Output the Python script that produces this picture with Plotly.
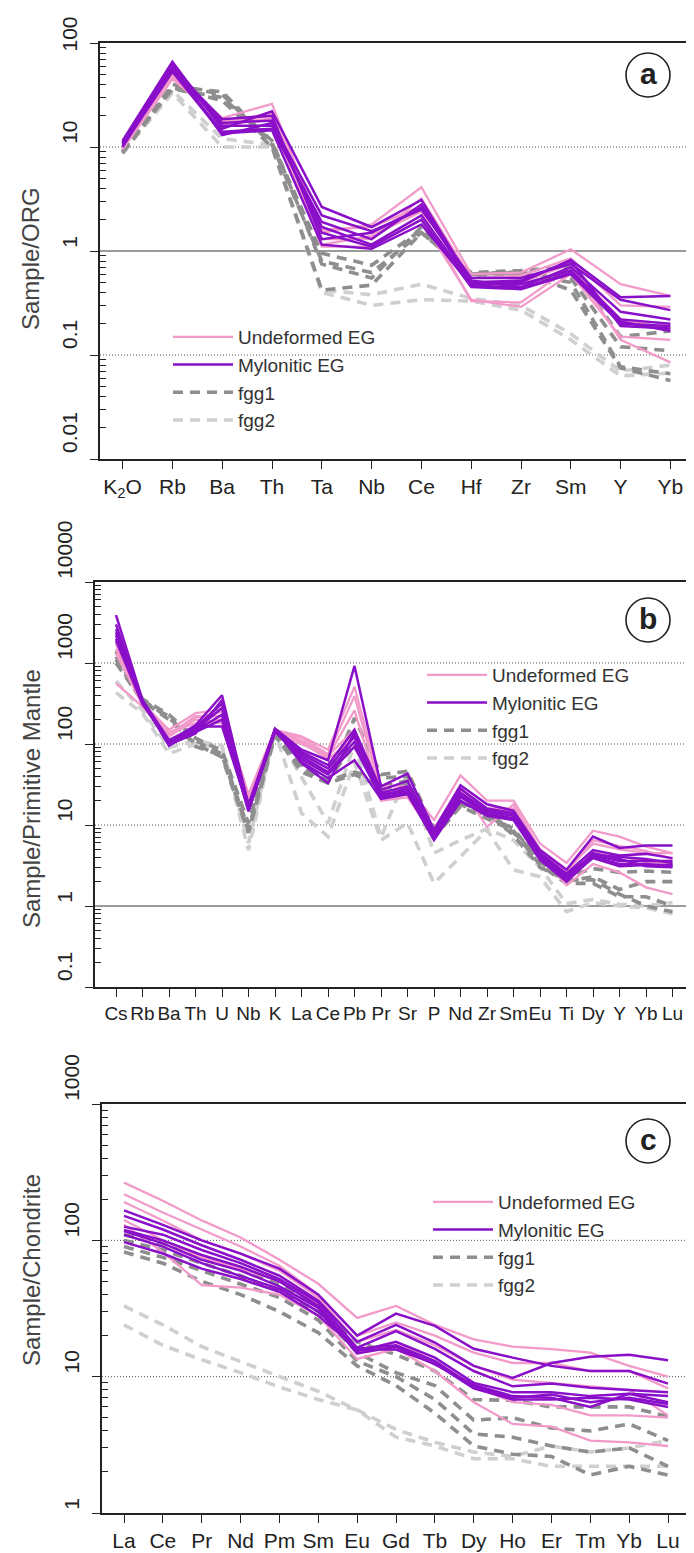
import math
import plotly.graph_objects as go

# page is 694 x 1553; the browser's default 8px body margin offsets the figure
PAGE_W, PAGE_H = 694, 1553
OFF = 8
W, H = PAGE_W - OFF, PAGE_H - OFF

# ---------------- Panel a : ORG normalised ----------------
cats_a = ["K2O", "Rb", "Ba", "Th", "Ta", "Nb", "Ce", "Hf", "Zr", "Sm", "Y", "Yb"]
ticks_a = ["K<sub>2</sub>O", "Rb", "Ba", "Th", "Ta", "Nb", "Ce", "Hf", "Zr", "Sm", "Y", "Yb"]

a_undeformed = [
    [10.5, 50, 19, 26, 1.5, 1.8, 4.1, 0.60, 0.62, 1.04, 0.48, 0.37],
    [10.0, 48, 17, 20, 1.3, 1.3, 3.2, 0.55, 0.58, 0.85, 0.30, 0.29],
    [9.5, 45, 18, 18, 1.15, 1.4, 2.4, 0.33, 0.32, 0.70, 0.22, 0.18],
    [10.0, 52, 16, 19, 1.1, 1.1, 2.0, 0.34, 0.29, 0.60, 0.15, 0.14],
    [9.8, 47, 17.5, 21, 1.6, 1.7, 2.7, 0.50, 0.50, 0.75, 0.14, 0.085],
]
a_mylonitic = [
    [11.5, 66, 15, 22, 2.65, 1.7, 3.1, 0.50, 0.50, 0.82, 0.36, 0.37],
    [11.0, 60, 13, 17, 2.2, 1.55, 2.5, 0.55, 0.55, 0.75, 0.34, 0.27],
    [10.5, 55, 14, 15, 1.9, 1.3, 2.8, 0.52, 0.45, 0.70, 0.26, 0.22],
    [10.0, 58, 16, 16, 1.7, 1.15, 2.2, 0.48, 0.48, 0.65, 0.22, 0.20],
    [10.8, 62, 17, 18, 1.5, 1.1, 2.0, 0.45, 0.43, 0.60, 0.20, 0.19],
    [11.2, 57, 18.5, 20, 1.3, 1.5, 2.6, 0.50, 0.52, 0.80, 0.19, 0.18],
    [10.2, 53, 13.5, 14.5, 1.15, 1.05, 1.8, 0.47, 0.44, 0.62, 0.21, 0.17],
]
a_fgg1 = [
    [9.0, 38, 34, 11, 0.95, 0.73, 1.6, 0.62, 0.65, 0.70, 0.15, 0.17],
    [8.8, 40, 32, 10.5, 0.80, 0.62, 1.5, 0.60, 0.62, 0.55, 0.12, 0.11],
    [9.2, 36, 30, 11.5, 0.75, 0.55, 1.7, 0.58, 0.60, 0.50, 0.077, 0.066],
    [8.7, 37, 28, 10, 0.42, 0.47, 1.5, 0.60, 0.63, 0.42, 0.075, 0.057],
]
a_fgg2 = [
    [9.0, 35, 12, 10.5, 0.42, 0.38, 0.48, 0.35, 0.30, 0.16, 0.070, 0.080],
    [8.8, 33, 10, 10, 0.40, 0.30, 0.34, 0.33, 0.27, 0.14, 0.063, 0.067],
]

# ---------------- Panel b : Primitive mantle ----------------
cats_b = ["Cs", "Rb", "Ba", "Th", "U", "Nb", "K", "La", "Ce", "Pb", "Pr", "Sr",
          "P", "Nd", "Zr", "Sm", "Eu", "Ti", "Dy", "Y", "Yb", "Lu"]
ticks_b = cats_b

b_undeformed = [
    [1800, 320, 150, 240, 265, 24, 150, 124, 85, 510, 30, 30, 11.5, 41, 20, 20, 5.9, 3.4, 8.5, 7.2, 5.4, 4.5],
    [1500, 300, 130, 220, 220, 20, 140, 120, 75, 390, 26, 28, 9, 30, 9.5, 18, 5.0, 2.8, 5.9, 5.0, 4.5, 4.5],
    [560, 290, 124, 200, 180, 22, 135, 100, 70, 260, 22, 25, 8, 27, 16, 16, 4.5, 1.8, 3.3, 2.6, 1.7, 1.4],
    [1300, 310, 140, 180, 200, 20, 145, 110, 72, 150, 20, 22, 7.5, 25, 14, 14, 4.2, 2.5, 4.8, 4.2, 3.5, 3.3],
    [1700, 330, 135, 210, 250, 23, 150, 105, 65, 120, 24, 24, 8.5, 28, 15, 15, 4.8, 2.6, 6.5, 5.5, 4.8, 3.8],
]
b_mylonitic = [
    [3900, 350, 107, 170, 400, 17, 155, 85, 63, 920, 30, 43, 8.7, 31, 18, 15, 4.9, 2.8, 7.2, 5.2, 5.6, 5.6],
    [2400, 330, 100, 160, 316, 15, 150, 80, 55, 150, 27, 35, 8, 28, 16, 14, 4.5, 2.5, 4.9, 4.2, 4.4, 3.9],
    [2200, 340, 95, 150, 278, 16, 145, 75, 50, 124, 25, 30, 7.5, 25, 15, 13, 4.2, 2.3, 4.2, 3.6, 3.6, 3.6],
    [2000, 320, 110, 145, 230, 15, 140, 70, 45, 107, 23, 28, 7, 22, 14, 12, 4.0, 2.2, 3.9, 3.1, 3.2, 3.2],
    [1900, 310, 105, 140, 200, 14.7, 150, 65, 42, 93, 22, 25, 6.5, 20, 13, 11.5, 3.8, 2.1, 4.5, 3.8, 3.1, 3.0],
    [2600, 345, 112, 165, 165, 16, 148, 60, 38, 63, 21, 24, 6.8, 19.5, 13.5, 12, 3.7, 2.0, 4.0, 3.3, 3.3, 3.1],
    [3000, 335, 98, 135, 350, 18, 152, 58, 33, 140, 24, 26, 7.2, 23, 15, 13, 4.3, 2.4, 4.3, 4.0, 3.8, 3.4],
]
b_fgg1 = [
    [1400, 360, 230, 118, 83, 10.5, 140, 58, 34, 210, 42, 46, 9, 20, 15, 8, 4.0, 2.3, 2.9, 2.6, 2.7, 2.6],
    [1200, 350, 210, 110, 75, 9, 135, 50, 35, 45, 38, 40, 8, 18, 13, 9, 3.5, 2.0, 2.3, 1.6, 2.0, 2.0],
    [1000, 340, 200, 100, 69, 8, 130, 45, 33, 42, 30, 35, 7, 17, 12, 8.5, 3.2, 1.9, 1.9, 1.3, 1.3, 1.0],
    [1100, 330, 220, 93, 72, 8.5, 125, 55, 36, 100, 28, 32, 8.5, 19, 14, 7.5, 3.0, 2.1, 2.1, 1.4, 1.0, 0.85],
]
b_fgg2 = [
    [430, 240, 76, 100, 90, 4.9, 140, 14, 7.2, 60, 6.5, 10.6, 1.9, 4.0, 8.7, 2.8, 2.3, 0.85, 1.1, 1.0, 0.95, 0.8],
    [600, 260, 90, 110, 95, 6.0, 145, 40, 10.5, 100, 7.0, 45, 4.5, 6.5, 9.0, 6.5, 3.0, 1.07, 1.2, 1.05, 1.0, 1.1],
]

# ---------------- Panel c : Chondrite ----------------
cats_c = ["La", "Ce", "Pr", "Nd", "Pm", "Sm", "Eu", "Gd", "Tb", "Dy", "Ho", "Er", "Tm", "Yb", "Lu"]
ticks_c = cats_c

c_undeformed = [
    [265, 195, 140, 105, 72, 48, 27, 33, 24, 18.8, 16.6, 15.9, 15, 12, 10],
    [218, 160, 120, 90, 65, 40, 20, 25, 20, 15, 12.6, 12.6, 11, 11, 8.2],
    [191, 140, 100, 80, 60, 38, 18, 22, 17, 12, 9.5, 9, 8.5, 8, 5.2],
    [141, 100, 75, 62, 50, 34, 15, 18, 13, 8.5, 6.5, 6.2, 5.2, 5.2, 5.0],
    [130, 82, 47, 45, 40, 28, 13.5, 16, 11, 6.5, 4.5, 4.3, 3.4, 3.3, 3.1],
]
c_mylonitic = [
    [166, 130, 100, 80, 62, 40, 20, 29, 23.6, 16, 13.8, 12, 11, 11, 8.9],
    [151, 120, 92, 72, 55, 36, 18, 24, 17.8, 12, 9.8, 12.6, 14, 14.5, 13.2],
    [126, 110, 85, 68, 52, 35, 16.3, 21.6, 16, 11, 8.5, 8.9, 8.3, 8.0, 7.7],
    [119, 100, 78, 64, 50, 33, 15.4, 18, 13.8, 9, 7.7, 7.7, 7.2, 7.5, 7.2],
    [117, 95, 72, 60, 46, 32, 14.8, 16.6, 12.3, 8.7, 7.2, 7.0, 6.0, 7.5, 6.5],
    [110, 90, 68, 55, 44, 30, 15.8, 15.8, 12.5, 8.2, 6.8, 6.8, 7.0, 6.8, 6.0],
    [97, 80, 62, 52, 42, 28, 16, 17, 13, 8.5, 7.0, 7.4, 6.5, 7.0, 6.3],
]
c_fgg1 = [
    [110, 95, 75, 62, 48, 34, 18, 14.5, 11, 6.8, 6.7, 6.0, 6.0, 6.0, 5.1],
    [100, 85, 68, 55, 42, 30, 15, 10.7, 8.6, 4.8, 5.0, 4.2, 4.0, 4.5, 3.4],
    [90, 75, 60, 48, 38, 26, 13, 10, 6.8, 3.8, 3.6, 3.1, 2.8, 3.0, 2.2],
    [82, 68, 50, 40, 30, 21, 12, 8.6, 5.4, 3.1, 2.7, 2.6, 1.9, 2.2, 1.9],
]
c_fgg2 = [
    [33, 24, 16.6, 12.9, 10, 7.8, 5.7, 4.1, 3.3, 2.8, 2.6, 3.1, 2.8, 3.0, 3.4],
    [24, 17, 13.3, 10.7, 8.4, 6.8, 5.7, 3.6, 3.1, 2.5, 2.5, 2.2, 2.2, 2.2, 2.2],
]

# ---------------- styles ----------------
SANS = "Liberation Sans, Arial, sans-serif"

styles = {
    "Undeformed EG": dict(color="#F29BCA", width=2.3, dash="solid", rank=1),
    "Mylonitic EG": dict(color="#8A0FC9", width=2.5, dash="solid", rank=2),
    "fgg1": dict(color="#8E8E8E", width=3.6, dash="10px,7px", rank=3),
    "fgg2": dict(color="#CFCFCF", width=3.6, dash="10px,7px", rank=4),
}

PX_RIGHT = 692


def fx(px):
    return (px - OFF) / W


def fy(py):
    return (H - (py - OFF)) / H


panels = [
    dict(cats=cats_a, ticks=ticks_a,
         groups=[("fgg2", a_fgg2), ("fgg1", a_fgg1), ("Undeformed EG", a_undeformed), ("Mylonitic EG", a_mylonitic)],
         lo=-2, hi=2, labels=["0.01", "0.1", "1", "10", "100"], pads=[4, 3, 1, 2, 1],
         px_left=100, px_first=122.6, px_step=49.8, px_top=43, px_bot=459, xfont=21,
         grid=[(1, "dot"), (0, "solid"), (-1, "dot")],
         title="Sample/ORG", title_y=259, letter="a", letter_y=75,
         leg_x=168, leg_y=318),
    dict(cats=cats_b, ticks=ticks_b,
         groups=[("fgg2", b_fgg2), ("fgg1", b_fgg1), ("Undeformed EG", b_undeformed), ("Mylonitic EG", b_mylonitic)],
         lo=-1, hi=4, labels=["0.1", "1", "10", "100", "1000", "10000"], pads=[3, 1, 2, 3, 4, 5],
         px_left=95, px_first=116, px_step=26.5, px_top=582, px_bot=987, xfont=19,
         grid=[(3, "dot"), (2, "dot"), (1, "dot"), (0, "solid")],
         title="Sample/Primitive Mantle", title_y=799, letter="b", letter_y=620,
         leg_x=422, leg_y=656),
    dict(cats=cats_c, ticks=ticks_c,
         groups=[("fgg2", c_fgg2), ("fgg1", c_fgg1), ("Undeformed EG", c_undeformed), ("Mylonitic EG", c_mylonitic)],
         lo=0, hi=3, labels=["1", "10", "100", "1000"], pads=[1, 2, 3, 4],
         px_left=102, px_first=124, px_step=38.86, px_top=1104, px_bot=1513, xfont=21,
         grid=[(2, "dot"), (1, "dot")],
         title="Sample/Chondrite", title_y=1270, letter="c", letter_y=1141,
         leg_x=428, leg_y=1183),
]

fig = go.Figure()
shapes = []
annotations = []
layout = dict(width=W, height=H, margin=dict(l=0, r=0, t=0, b=0, autoexpand=False),
              paper_bgcolor="white", plot_bgcolor="white", showlegend=True)

for i, p in enumerate(panels):
    n = i + 1
    xs = "x" if n == 1 else f"x{n}"
    ys = "y" if n == 1 else f"y{n}"
    lg = "legend" if n == 1 else f"legend{n}"
    for name, series in p["groups"]:
        st = styles[name]
        for k, vals in enumerate(series):
            fig.add_trace(go.Scatter(
                x=p["cats"], y=vals, mode="lines", name=name,
                line=dict(color=st["color"], width=st["width"], dash=st["dash"]),
                xaxis=xs, yaxis=ys, legend=lg, legendgroup=f"{name}{n}",
                showlegend=(k == 0), legendrank=st["rank"], hoverinfo="skip"))

    xr = [(p["px_left"] - p["px_first"]) / p["px_step"], (PX_RIGHT - p["px_first"]) / p["px_step"]]
    xdom = [fx(p["px_left"]), fx(PX_RIGHT)]
    ydom = [fy(p["px_bot"]), fy(p["px_top"])]
    decades = list(range(p["lo"], p["hi"] + 1))
    tickvals = [10 ** d for d in decades]
    ticktext = ["\u2007" * k + t for t, k in zip(p["labels"], p["pads"])]
    minor_vals = [m * 10 ** d for d in decades[:-1] for m in range(2, 10)]

    layout["xaxis" if n == 1 else f"xaxis{n}"] = dict(
        domain=xdom, anchor=ys, type="category", range=xr, automargin=False,
        tickmode="array", tickvals=p["cats"], ticktext=p["ticks"], tickangle=0,
        ticks="outside", ticklen=8, tickwidth=1.3, tickcolor="#222",
        showline=True, linecolor="#222", linewidth=1.6, mirror=True,
        showgrid=False, zeroline=False, ticklabeloverflow="allow",
        tickfont=dict(family=SANS, size=p["xfont"], color="#222"))
    layout["yaxis" if n == 1 else f"yaxis{n}"] = dict(
        domain=ydom, anchor=xs, type="log", range=[p["lo"], p["hi"]], automargin=False,
        tickmode="array", tickvals=tickvals, ticktext=ticktext, tickangle=-90,
        ticks="outside", ticklen=8, tickwidth=1.3, tickcolor="#222",
        ticklabelstandoff=5, ticklabeloverflow="allow",
        minor=dict(tickmode="array", tickvals=minor_vals, ticks="inside",
                   ticklen=6, tickwidth=1.2, tickcolor="#222", showgrid=False),
        showline=True, linecolor="#222", linewidth=1.6, mirror=True,
        showgrid=False, zeroline=False,
        tickfont=dict(family=SANS, size=21, color="#222"))

    for lv, kind in p["grid"]:
        frac = (lv - p["lo"]) / (p["hi"] - p["lo"])
        if kind == "dot":
            line = dict(color="#555555", width=1, dash="1px,2px")
        else:
            line = dict(color="#7a7a7a", width=1.5)
        shapes.append(dict(type="line", xref=f"{xs} domain", yref=f"{ys} domain",
                           x0=0, x1=1, y0=frac, y1=frac, line=line, layer="below"))

    # panel letter in circle
    cx, cy, r = 648, p["letter_y"], 22
    shapes.append(dict(type="circle", xref="paper", yref="paper",
                       x0=fx(cx - r), x1=fx(cx + r),
                       y0=fy(cy + r), y1=fy(cy - r),
                       line=dict(color="#222", width=1.6)))
    annotations.append(dict(text=f"<b>{p['letter']}</b>", x=fx(cx), y=fy(cy - 2),
                            xref="paper", yref="paper", showarrow=False,
                            xanchor="center", yanchor="middle",
                            font=dict(family=SANS, size=30, color="#222")))
    annotations.append(dict(text=p["title"], x=fx(31), y=fy(p["title_y"]),
                            xref="paper", yref="paper", showarrow=False, textangle=-90,
                            xanchor="center", yanchor="middle",
                            font=dict(family=SANS, size=24, color="#444")))

    layout[lg] = dict(x=fx(p["leg_x"]), y=fy(p["leg_y"]), xanchor="left", yanchor="top",
                      bgcolor="rgba(0,0,0,0)", borderwidth=0, itemwidth=60,
                      tracegroupgap=0,
                      font=dict(family=SANS, size=19, color="#333"))

layout["shapes"] = shapes
layout["annotations"] = annotations
fig.update_layout(**layout)
fig.write_html("out.html")
